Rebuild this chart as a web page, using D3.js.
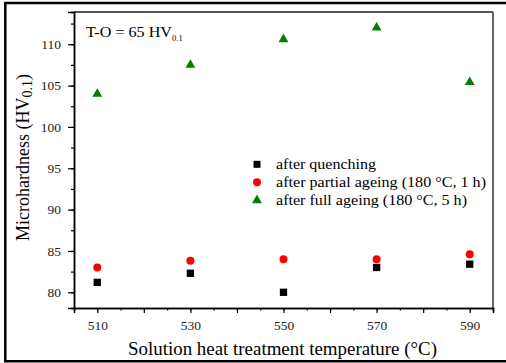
<!DOCTYPE html>
<html><head><meta charset="utf-8">
<script src="https://cdn.jsdelivr.net/npm/d3@7"></script>
<style>body{margin:0;background:#fff}svg{display:block}text{font-family:"Liberation Serif","Times New Roman",serif}</style>
</head><body><svg id="c" width="506" height="363"></svg>
<script>
const temps = [510, 530, 550, 570, 590];
const quench = [81.2, 82.3, 80.0, 83.0, 83.4];
const partial = [83.0, 83.8, 84.0, 84.0, 84.6];
const full = [104.0, 107.5, 110.6, 112.0, 105.4];
const seriesNames = ["after quenching", "after partial ageing (180 °C, 1 h)", "after full ageing (180 °C, 5 h)"];
const yTicks = [80, 85, 90, 95, 100, 105, 110];
const xTicks = [510, 530, 550, 570, 590];

const svg = d3.select("#c");
const L = 74, R = 493, T = 12, B = 308;
const x = d3.scaleLinear().domain([505, 595]).range([L, R]);
const y = d3.scaleLinear().domain([78.1, 113.9]).range([B, T]);

// outer frame
svg.append("line").attr("x1",4).attr("x2",506).attr("y1",3).attr("y2",3).attr("stroke","#000").attr("stroke-width",2.5);
svg.append("line").attr("x1",5.3).attr("x2",5.3).attr("y1",2).attr("y2",362).attr("stroke","#000").attr("stroke-width",2.5);
svg.append("line").attr("x1",4).attr("x2",506).attr("y1",361.3).attr("y2",361.3).attr("stroke","#000").attr("stroke-width",2.5);

// plot frame top/right
svg.append("line").attr("x1",L).attr("x2",R).attr("y1",T).attr("y2",T).attr("stroke","#555").attr("stroke-width",1.8);
svg.append("line").attr("x1",R).attr("x2",R).attr("y1",T).attr("y2",B).attr("stroke","#555").attr("stroke-width",1.8);

// axes
const xMinor = d3.range(505, 596, 5);
const gx = svg.append("g").attr("transform",`translate(0,${B})`);
gx.call(d3.axisBottom(x).tickValues(xMinor).tickSize(2.5).tickFormat(""));
gx.append("g").call(d3.axisBottom(x).tickValues(d3.range(510,591,10)).tickSize(5).tickFormat(d => xTicks.includes(d) ? d : ""));
gx.selectAll("path").attr("stroke","#000").attr("stroke-width",1.5);
gx.selectAll("line").attr("stroke","#000").attr("stroke-width",1.2);
gx.selectAll("text").attr("font-size",13.5).attr("fill","#222").attr("dy","1em");

const gy = svg.append("g").attr("transform",`translate(${L},0)`);
gy.call(d3.axisLeft(y).tickValues(d3.range(80,113,2.5)).tickSize(3).tickFormat(""));
gy.append("g").call(d3.axisLeft(y).tickValues(yTicks).tickSize(6).tickFormat(d3.format("d")));
gy.selectAll("path").attr("stroke","#000").attr("stroke-width",1.5);
gy.selectAll("line").attr("stroke","#000").attr("stroke-width",1.2);
gy.selectAll("text").attr("font-size",13.5).attr("fill","#222").attr("dx","-0.3em");

// markers
const sq = 7.3, cr = 4;
svg.append("g").selectAll("rect").data(temps).join("rect")
  .attr("x", (d)=>x(d)-sq/2).attr("y",(d,i)=>y(quench[i])-sq/2).attr("width",sq).attr("height",sq).attr("fill","#000");
svg.append("g").selectAll("circle").data(temps).join("circle")
  .attr("cx", d=>x(d)).attr("cy",(d,i)=>y(partial[i])).attr("r",cr).attr("fill","#ff0000");
const tri = d3.symbol().type(d3.symbolTriangle).size(42);
svg.append("g").selectAll("path").data(temps).join("path")
  .attr("d", tri).attr("transform",(d,i)=>`translate(${x(d)},${y(full[i])})`).attr("fill","#008000");

// legend
const lg = svg.append("g");
const ly = [164.3, 182.3, 200.3];
const lw = [100, 210, 191];
lg.append("rect").attr("x",257-3.5).attr("y",ly[0]-3.5).attr("width",7).attr("height",7).attr("fill","#000");
lg.append("circle").attr("cx",257).attr("cy",ly[1]).attr("r",cr).attr("fill","#ff0000");
lg.append("path").attr("d",tri).attr("transform",`translate(257,${ly[2]})`).attr("fill","#008000");
seriesNames.forEach((s,i)=>{
  lg.append("text").attr("x",276).attr("y",ly[i]+4.5).attr("font-size",14.5)
    .attr("textLength",lw[i]).attr("lengthAdjust","spacingAndGlyphs").text(s);
});

// annotation
const ann = svg.append("text").attr("x",86).attr("y",37).attr("font-size",14.5);
ann.append("tspan").attr("textLength",86).attr("lengthAdjust","spacingAndGlyphs").text("T-O = 65 HV");
ann.append("tspan").attr("font-size",8.5).attr("dy",3.5).text("0.1");

// axis titles
svg.append("text").attr("x",282.5).attr("y",355).attr("text-anchor","middle").attr("font-size",18)
  .attr("textLength",309).attr("lengthAdjust","spacingAndGlyphs").text("Solution heat treatment temperature (°C)");
const yt = svg.append("text").attr("transform","translate(29,157.5) rotate(-90)").attr("text-anchor","middle").attr("font-size",18);
yt.append("tspan").text("Microhardness (HV");
yt.append("tspan").attr("font-size",14).attr("dy",3).text("0.1");
yt.append("tspan").attr("dy",-3).text(")");
</script></body></html>
